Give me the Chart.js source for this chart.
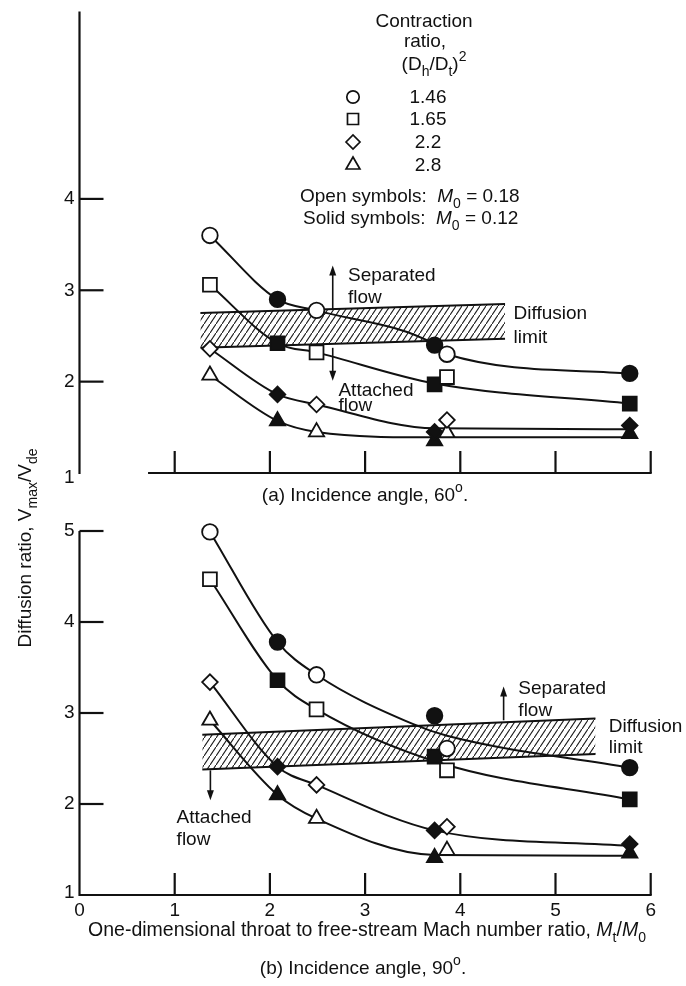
<!DOCTYPE html>
<html>
<head>
<meta charset="utf-8">
<script src="https://cdn.jsdelivr.net/npm/chart.js@4.4.1/dist/chart.umd.min.js"></script>
<style>
  html, body { margin: 0; padding: 0; background: #fff; }
  #wrap { position: relative; width: 686px; height: 986px; }
  #wrap canvas { position: absolute; left: 0; top: 0; }
</style>
</head>
<body>
<div id="wrap">
  <canvas id="chart60" width="686" height="986"></canvas>
  <canvas id="chart90" width="686" height="986"></canvas>
</div>
<script>
// Contraction ratio (Dh/Dt)^2, one symbol per ratio
const ratios = ["1.46", "1.65", "2.2", "2.8"];
const symbols = ["circle", "rect", "rectRot", "triangle"];

// Mt/M0 of the symbols
const openX = [1.37, 2.49, 3.86];   // open symbols, M0 = 0.18
const solidX = [2.08, 3.73, 5.78];  // solid symbols, M0 = 0.12

// (a) incidence angle 60 deg, Vmax/Vde
const open60 = [[3.60, 2.78, 2.30], [3.06, 2.32, 2.05], [2.36, 1.75, 1.58], [2.07, 1.45, 1.44]];
const solid60 = [[2.90, 2.40, 2.09], [2.42, 1.97, 1.76], [1.86, 1.45, 1.52], [1.57, 1.35, 1.43]];
// faired curves of (a)
const curveX60 = [[1.37, 2.08, 2.49, 3.73, 3.86, 5.78], [1.37, 2.08, 2.49, 3.73, 5.78], [1.37, 2.08, 2.49, 3.73, 5.78], [1.37, 2.08, 2.49, 3.73, 5.78]];
const curveY60 = [[3.60, 2.90, 2.78, 2.41, 2.30, 2.09], [3.06, 2.42, 2.32, 1.98, 1.76], [2.36, 1.86, 1.75, 1.49, 1.48], [2.07, 1.57, 1.45, 1.39, 1.39]];
// diffusion limit band of (a)
const bandX60 = [1.27, 4.47];
const bandHi60 = [2.75, 2.85];
const bandLo60 = [2.37, 2.47];

// (b) incidence angle 90 deg, Vmax/Vde
const open90 = [[4.99, 3.42, 2.61], [4.47, 3.04, 2.37], [3.34, 2.21, 1.75], [2.92, 1.84, 1.49]];
const solid90 = [[3.78, 2.97, 2.40], [3.36, 2.52, 2.05], [2.41, 1.71, 1.56], [2.10, 1.41, 1.46]];
const curveX90 = [[1.37, 2.08, 2.49, 3.50, 3.86, 5.78], [1.37, 2.08, 2.49, 3.79, 5.78], [1.37, 2.08, 2.49, 3.73, 5.78], [1.37, 2.08, 2.49, 3.73, 5.78]];
const curveY90 = [[4.99, 3.78, 3.42, 2.88, 2.75, 2.40], [4.47, 3.36, 3.04, 2.45, 2.05], [3.34, 2.41, 2.21, 1.71, 1.54], [2.92, 2.10, 1.84, 1.44, 1.43]];
const bandX90 = [1.29, 5.42];
const bandHi90 = [2.76, 2.94];
const bandLo90 = [2.38, 2.55];

const xTicks = [1, 2, 3, 4, 5, 6];
const xLabels = [0, 1, 2, 3, 4, 5, 6];

const INK = "#111";
const FONT = '"Liberation Sans", Arial, Helvetica, sans-serif';
const FS = 19;
const markSize = { circle: 7.8, rect: 9.8, rectRot: 7.8, triangle: 8.8 };
const legendSize = { circle: 6.2, rect: 7.8, rectRot: 7, triangle: 8 };

function hatchPattern() {
    const c = document.createElement("canvas");
    c.width = 6; c.height = 9;
    const g = c.getContext("2d");
    g.strokeStyle = "#1a1a1a";
    g.lineWidth = 1.1;
    g.beginPath();
    g.moveTo(-1, 10.5);
    g.lineTo(7, -1.5);
    g.stroke();
    return g.createPattern(c, "repeat");
}

function pts(xs, ys) {
    return xs.map((x, i) => ({ x: x, y: ys[i] }));
}

// text with sub/superscripts: parts are strings or {t, sub, sup, it}
function rich(ctx, parts, x, y, size, align) {
    const segs = parts.map(p => typeof p === "string" ? { t: p } : Object.assign({}, p));
    let w = 0;
    segs.forEach(s => {
        const sz = (s.sub || s.sup) ? Math.round(size * 0.72) : size;
        s.font = (s.it ? "italic " : "") + sz + "px " + FONT;
        ctx.font = s.font;
        s.w = ctx.measureText(s.t).width;
        w += s.w;
    });
    let cx = align === "center" ? x - w / 2 : (align === "right" ? x - w : x);
    ctx.textAlign = "left";
    ctx.textBaseline = "alphabetic";
    segs.forEach(s => {
        ctx.font = s.font;
        const dy = s.sub ? size * 0.3 : (s.sup ? -size * 0.45 : 0);
        ctx.fillText(s.t, cx, y + dy);
        cx += s.w;
    });
}

function seg(ctx, x1, y1, x2, y2) {
    ctx.beginPath();
    ctx.moveTo(x1, y1);
    ctx.lineTo(x2, y2);
    ctx.stroke();
}

function arrow(ctx, x, yFrom, yTo) {
    const dir = yTo < yFrom ? -1 : 1;
    ctx.lineWidth = 1.6;
    seg(ctx, x, yFrom, x, yTo - dir * 8);
    ctx.beginPath();
    ctx.moveTo(x, yTo);
    ctx.lineTo(x - 3.5, yTo - dir * 10);
    ctx.lineTo(x + 3.5, yTo - dir * 10);
    ctx.closePath();
    ctx.fill();
}

function mark(ctx, style, r, x, y, filled) {
    ctx.save();
    ctx.fillStyle = filled ? INK : "#fff";
    ctx.strokeStyle = INK;
    ctx.lineWidth = 1.7;
    Chart.helpers.drawPoint(ctx, { pointStyle: style, radius: r, rotation: 0, borderWidth: 1.7 }, x, y);
    ctx.restore();
}

function datasets(openY, solidY, cx, cy, bandX, bandHi, bandLo) {
    const ds = [];
    symbols.forEach((st, i) => {
        ds.push({
            data: pts(openX, openY[i]), showLine: false, pointStyle: st,
            pointRadius: markSize[st], pointBorderWidth: 1.8,
            pointBackgroundColor: "#fff", pointBorderColor: INK, order: 0, clip: false
        });
        ds.push({
            data: pts(solidX, solidY[i]), showLine: false, pointStyle: st,
            pointRadius: markSize[st], pointBorderWidth: 1.8,
            pointBackgroundColor: INK, pointBorderColor: INK, order: 0, clip: false
        });
        ds.push({
            data: pts(cx[i], cy[i]), pointRadius: 0, borderColor: INK, borderWidth: 2,
            cubicInterpolationMode: "monotone", fill: false, order: 1, clip: false
        });
    });
    ds.push({ data: pts(bandX, bandHi), pointRadius: 0, borderColor: INK, borderWidth: 2, fill: false, order: 2 });
    ds.push({
        data: pts(bandX, bandLo), pointRadius: 0, borderColor: INK, borderWidth: 2,
        fill: "-1", backgroundColor: hatchPattern(), order: 2
    });
    return ds;
}

function panelPlugin(cfg) {
    return {
        id: "panel",
        afterDatasetsDraw(chart) {
            const ctx = chart.ctx;
            const X = v => chart.scales.x.getPixelForValue(v);
            const Y = v => chart.scales.y.getPixelForValue(v);
            const x0 = X(0), yb = Y(1);
            ctx.save();
            ctx.strokeStyle = INK;
            ctx.fillStyle = INK;
            ctx.lineWidth = 2.2;
            // axes and inward ticks
            seg(ctx, x0, Y(chart.scales.y.max), x0, yb + 1);
            seg(ctx, X(cfg.xAxisFrom), yb, X(6) + 1, yb);
            cfg.yTicks.forEach(v => seg(ctx, x0, Y(v), x0 + 24, Y(v)));
            xTicks.forEach(v => seg(ctx, X(v), yb, X(v), yb - 22));
            ctx.font = FS + "px " + FONT;
            ctx.textAlign = "right";
            ctx.textBaseline = "middle";
            cfg.yLabels.forEach(v => ctx.fillText(String(v), x0 - 5, Y(v) + (v === 1 ? cfg.oneDy : 0)));
            if (cfg.xLabels) {
                ctx.textAlign = "center";
                ctx.textBaseline = "alphabetic";
                xLabels.forEach(v => ctx.fillText(String(v), X(v), yb + 21));
            }
            cfg.arrows.forEach(a => arrow(ctx, X(a[0]), Y(a[1]), Y(a[2])));
            ctx.font = FS + "px " + FONT;
            ctx.textAlign = "left";
            ctx.textBaseline = "alphabetic";
            cfg.notes.forEach(n => ctx.fillText(n[0], X(n[1]), Y(n[2])));
            rich(ctx, cfg.caption, cfg.captionAt[0], cfg.captionAt[1], FS, "center");
            if (cfg.extra) cfg.extra(ctx);
            ctx.restore();
        }
    };
}

function drawLegend(ctx) {
    ctx.fillStyle = INK;
    rich(ctx, ["Contraction"], 424, 27, FS, "center");
    rich(ctx, ["ratio,"], 425, 47, FS, "center");
    rich(ctx, ["(D", { t: "h", sub: true }, "/D", { t: "t", sub: true }, ")", { t: "2", sup: true }], 434, 70, FS, "center");
    const rows = [97, 119, 142, 165];
    symbols.forEach((st, i) => {
        mark(ctx, st, legendSize[st], 353, rows[i], false);
        ctx.fillStyle = INK;
        rich(ctx, [ratios[i]], 428, rows[i] + 6, FS, "center");
    });
    rich(ctx, ["Open symbols:  ", { t: "M", it: true }, { t: "0", sub: true }, " = 0.18"], 300, 202, FS, "left");
    rich(ctx, ["Solid symbols:  ", { t: "M", it: true }, { t: "0", sub: true }, " = 0.12"], 303, 224, FS, "left");
}

function drawTitles(ctx) {
    ctx.fillStyle = INK;
    rich(ctx, ["One-dimensional throat to free-stream Mach number ratio, ", { t: "M", it: true }, { t: "t", sub: true }, "/", { t: "M", it: true }, { t: "0", sub: true }], 367, 936, 19.5, "center");
    ctx.save();
    ctx.translate(24, 548);
    ctx.rotate(-Math.PI / 2);
    rich(ctx, ["Diffusion ratio, V", { t: "max", sub: true }, "/V", { t: "de", sub: true }], 0, 7, FS, "center");
    ctx.restore();
}

function makeChart(id, ds, yMax, padTop, padBottom, cfg) {
    return new Chart(document.getElementById(id).getContext("2d"), {
        type: "line",
        data: { datasets: ds },
        options: {
            responsive: false,
            animation: false,
            events: [],
            layout: { padding: { left: 79.5, right: 35.3, top: padTop, bottom: padBottom } },
            scales: {
                x: { type: "linear", min: 0, max: 6, display: false },
                y: { type: "linear", min: 1, max: yMax, display: false }
            },
            plugins: { legend: { display: false }, tooltip: { enabled: false } }
        },
        plugins: [panelPlugin(cfg)]
    });
}

makeChart("chart60", datasets(open60, solid60, curveX60, curveY60, bandX60, bandHi60, bandLo60), 6.05, 8.4, 513, {
    xAxisFrom: 0.72,
    yTicks: [2, 3, 4],
    yLabels: [1, 2, 3, 4],
    oneDy: 5,
    xLabels: false,
    arrows: [[2.66, 2.79, 3.27], [2.66, 2.37, 2.01]],
    notes: [["Separated", 2.82, 3.10], ["flow", 2.82, 2.86], ["Diffusion", 4.56, 2.685], ["limit", 4.56, 2.424], ["Attached", 2.72, 1.848], ["flow", 2.72, 1.674]],
    caption: ["(a) Incidence angle, 60", { t: "o", sup: true }, "."],
    captionAt: [365, 501],
    extra: drawLegend
});

makeChart("chart90", datasets(open90, solid90, curveX90, curveY90, bandX90, bandHi90, bandLo90), 5, 531, 91, {
    xAxisFrom: 0,
    yTicks: [2, 3, 4, 5],
    yLabels: [1, 2, 3, 4, 5],
    oneDy: -2,
    xLabels: true,
    arrows: [[4.455, 2.92, 3.29], [1.375, 2.37, 2.04]],
    notes: [["Separated", 4.61, 3.21], ["flow", 4.61, 2.97], ["Diffusion", 5.56, 2.79], ["limit", 5.56, 2.56], ["Attached", 1.02, 1.79], ["flow", 1.02, 1.55]],
    caption: ["(b) Incidence angle, 90", { t: "o", sup: true }, "."],
    captionAt: [363, 974],
    extra: drawTitles
});
</script>
</body>
</html>
